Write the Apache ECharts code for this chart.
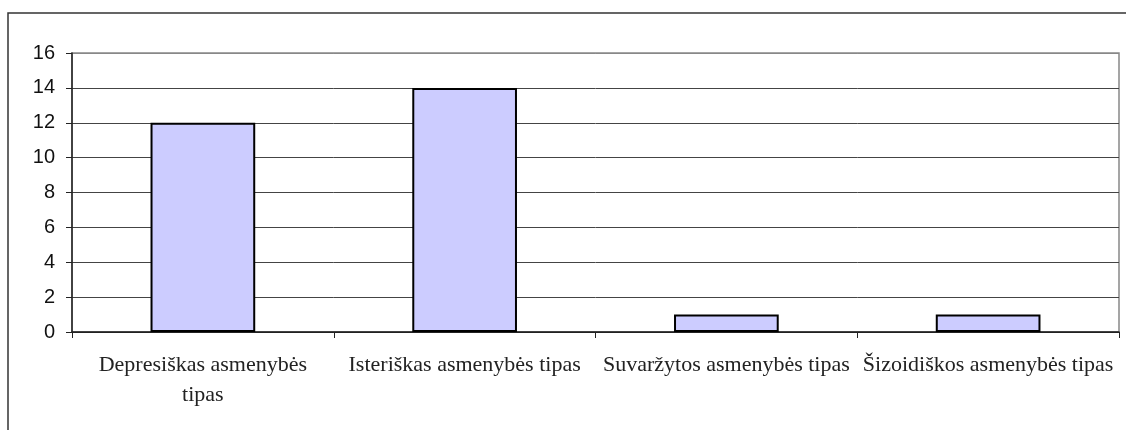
<!DOCTYPE html>
<html>
<head>
<meta charset="utf-8">
<script src="https://cdn.jsdelivr.net/npm/echarts@6/dist/echarts.min.js"></script>
<style>
html, body { margin: 0; padding: 0; background: #fff; }
#chart { width: 1126px; height: 430px; }
</style>
</head>
<body>
<div id="chart"></div>
<script>
// asmenybės tipai
const categories = ['Depresiškas asmenybės tipas', 'Isteriškas asmenybės tipas', 'Suvaržytos asmenybės tipas', 'Šizoidiškos asmenybės tipas'];
const counts = [12, 14, 1, 1];
const yMax = 16;
const yStep = 2;

const labelFont = '22px Liberation Serif';
const labelMaxWidth = 253;

// word wrap by measured width (echarts break wraps too early here)
function wrapLabel (text) {
	let ctx = document.createElement('canvas').getContext('2d');
	ctx.font = labelFont;
	let words = text.split(' ');
	let lines = [];
	let line = '';
	words.forEach(function (w) {
		let test = line ? line + ' ' + w : w;
		if (line && ctx.measureText(test).width > labelMaxWidth) {
			lines.push(line);
			line = w;
		} else {
			line = test;
		}
	});
	lines.push(line);
	return lines.join('\n');
}

let myChart = echarts.init(document.getElementById('chart'));
myChart.setOption({
	animation: false,
	graphic: [{
		type: 'rect',
		shape: { x: 8, y: 13, width: 1200, height: 500 },
		style: { fill: 'none', stroke: '#333', lineWidth: 1.5 },
		silent: true
	}],
	grid: {
		left: 72, right: 7, top: 53, bottom: 98,
		show: true, borderColor: '#888', borderWidth: 1.5
	},
	xAxis: {
		type: 'category',
		data: categories,
		axisLine: { lineStyle: { color: '#222', width: 1.5 } },
		axisTick: { show: true, length: 6, lineStyle: { color: '#222' } },
		axisLabel: {
			fontFamily: 'Liberation Serif', fontSize: 22, color: '#222',
			margin: 18, lineHeight: 30, interval: 0,
			formatter: wrapLabel
		}
	},
	yAxis: {
		type: 'value',
		min: 0, max: yMax, interval: yStep,
		axisLine: { show: true, lineStyle: { color: '#222', width: 1.5 } },
		axisTick: { show: true, length: 6, lineStyle: { color: '#222' } },
		axisLabel: { fontFamily: 'Liberation Sans', fontSize: 20, color: '#111', margin: 17 },
		splitLine: { lineStyle: { color: ['#222','#444','#444','#444','#444','#444','#444','#444','#888'], width: 1 } }
	},
	series: [{
		type: 'bar',
		data: counts,
		barWidth: '40%',
		itemStyle: { color: '#ccccff', borderColor: '#000', borderWidth: 2 }
	}]
});
</script>
</body>
</html>
